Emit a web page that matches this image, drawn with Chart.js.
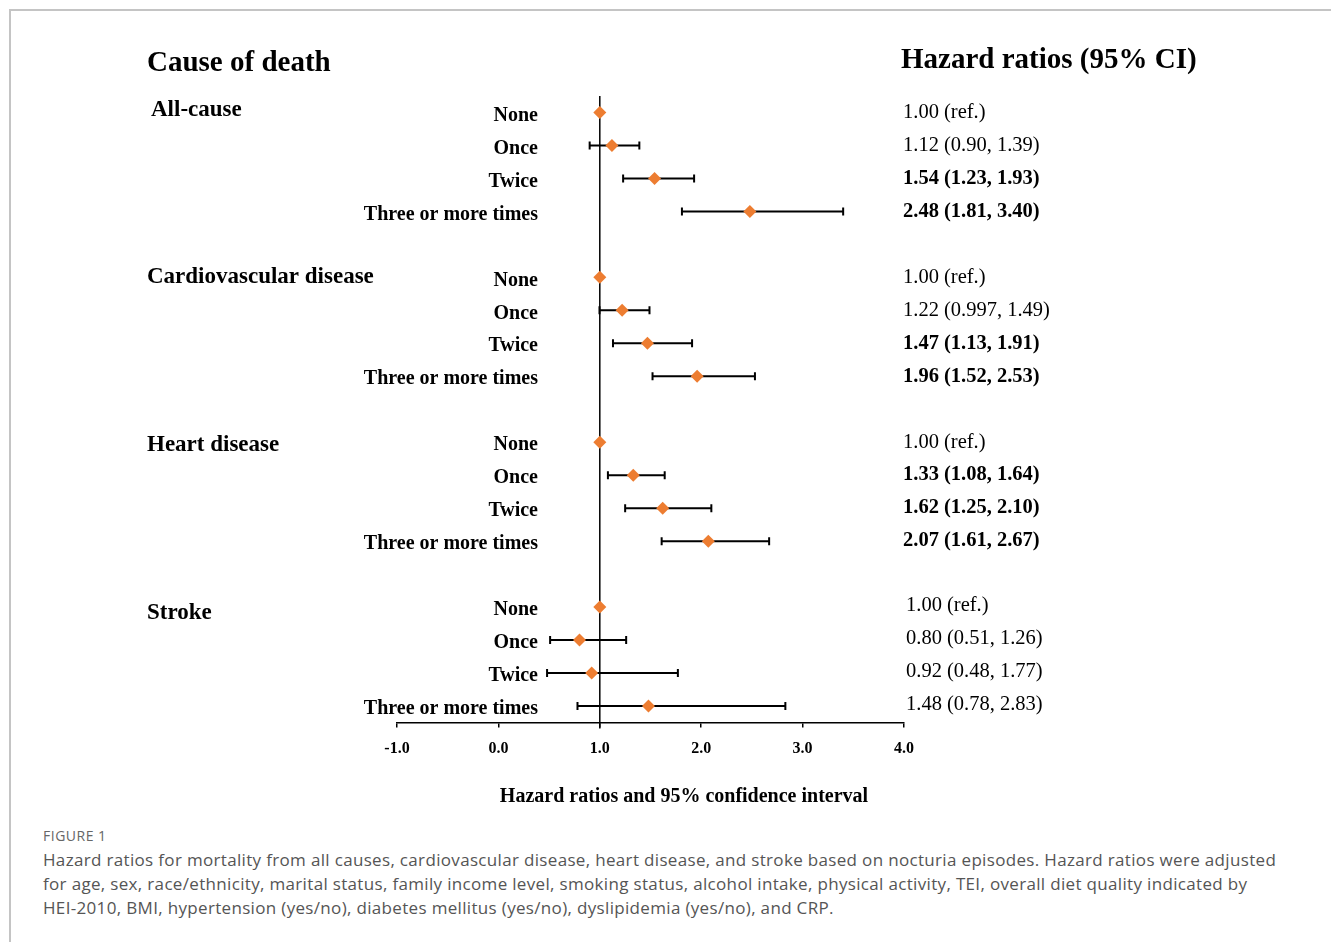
<!DOCTYPE html>
<html>
<head>
<meta charset="utf-8">
<script src="https://cdn.jsdelivr.net/npm/chart.js@4.4.1/dist/chart.umd.min.js"></script>
<style>
    html, body { margin: 0; width: 1331px; height: 942px; overflow: hidden; background: #fff; }
    #frame { position: absolute; left: 9px; top: 9px; right: 0; bottom: 0; border-top: 2px solid #c4c4c4; border-left: 2px solid #c4c4c4; }
    #plot { position: absolute; left: 0; top: 0; width: 1331px; height: 820px; }
    #figlabel { position: absolute; left: 43px; top: 828px; font: 14px "Open Sans", sans-serif; letter-spacing: 0.5px; line-height: 16px; color: #666; }
    #caption { position: absolute; left: 43px; top: 848px; font: 17px "Open Sans", sans-serif; letter-spacing: 0.33px; line-height: 24px; color: #555; white-space: nowrap; }
</style>
</head>
<body>
<div id="frame"></div>
<div id="plot"><canvas id="forest"></canvas></div>
<div id="figlabel">FIGURE 1</div>
<div id="caption">Hazard ratios for mortality from all causes, cardiovascular disease, heart disease, and stroke based on nocturia episodes. Hazard ratios were adjusted<br>for age, sex, race/ethnicity, marital status, family income level, smoking status, alcohol intake, physical activity, TEI, overall diet quality indicated by<br>HEI-2010, BMI, hypertension (yes/no), diabetes mellitus (yes/no), dyslipidemia (yes/no), and CRP.</div>
<script>
const groups = ['All-cause', 'Cardiovascular disease', 'Heart disease', 'Stroke'];
const categories = ['None', 'Once', 'Twice', 'Three or more times'];

// hazard ratio, lower and upper 95% CI per group (None is the reference)
const allCauseHR = [1.00, 1.12, 1.54, 2.48];
const allCauseLo = [null, 0.90, 1.23, 1.81];
const allCauseHi = [null, 1.39, 1.93, 3.40];

const cvdHR = [1.00, 1.22, 1.47, 1.96];
const cvdLo = [null, 0.997, 1.13, 1.52];
const cvdHi = [null, 1.49, 1.91, 2.53];

const heartHR = [1.00, 1.33, 1.62, 2.07];
const heartLo = [null, 1.08, 1.25, 1.61];
const heartHi = [null, 1.64, 2.10, 2.67];

const strokeHR = [1.00, 0.80, 0.92, 1.48];
const strokeLo = [null, 0.51, 0.48, 0.78];
const strokeHi = [null, 1.26, 1.77, 2.83];

const xTicks = [-1, 0, 1, 2, 3, 4];

const hrs = [allCauseHR, cvdHR, heartHR, strokeHR];
const lows = [allCauseLo, cvdLo, heartLo, strokeLo];
const highs = [allCauseHi, cvdHi, heartHi, strokeHi];

const serif = '"Liberation Serif", "Times New Roman", serif';
const rowsPerGroup = categories.length + 1;
// group titles sit a little off their first row in the original
const titleShift = [-2, 0, 3, 6];

function rowOf(g, c) {
    return g * rowsPerGroup + c;
}

function fmt(v) {
    return Math.round(v * 100) / 100 === v ? v.toFixed(2) : String(v);
}

const points = [];
hrs.forEach((list, g) => {
    list.forEach((hr, c) => points.push({ x: hr, y: rowOf(g, c) }));
});

const forestPlugin = {
    id: 'forest',
    beforeDatasetsDraw(chart) {
        const { ctx, chartArea, scales: { x, y } } = chart;
        ctx.save();
        ctx.strokeStyle = '#000';

        // reference line at HR = 1
        const x1 = x.getPixelForValue(1);
        ctx.lineWidth = 1.5;
        ctx.beginPath();
        ctx.moveTo(x1, chartArea.top);
        ctx.lineTo(x1, chartArea.bottom + 6);
        ctx.stroke();

        // confidence intervals
        ctx.lineWidth = 2;
        lows.forEach((list, g) => {
            list.forEach((lo, c) => {
                if (lo == null) return;
                const yy = y.getPixelForValue(rowOf(g, c));
                const xl = x.getPixelForValue(lo);
                const xh = x.getPixelForValue(highs[g][c]);
                ctx.beginPath();
                ctx.moveTo(xl, yy); ctx.lineTo(xh, yy);
                ctx.moveTo(xl, yy - 4); ctx.lineTo(xl, yy + 4);
                ctx.moveTo(xh, yy - 4); ctx.lineTo(xh, yy + 4);
                ctx.stroke();
            });
        });
        ctx.restore();
    },
    afterDraw(chart) {
        const { ctx, chartArea, scales: { x, y } } = chart;
        ctx.save();
        ctx.fillStyle = '#000';
        ctx.textBaseline = 'middle';

        ctx.font = 'bold 29px ' + serif;
        ctx.textAlign = 'left';
        ctx.fillText('Cause of death', 147, 64);
        ctx.fillText('Hazard ratios (95% CI)', 901, 61);

        groups.forEach((name, g) => {
            ctx.font = 'bold 23px ' + serif;
            ctx.textAlign = 'left';
            ctx.fillText(name, g === 0 ? 151 : 147, y.getPixelForValue(rowOf(g, 0)) + titleShift[g]);

            categories.forEach((cat, c) => {
                const yy = y.getPixelForValue(rowOf(g, c));
                ctx.font = 'bold 20px ' + serif;
                ctx.textAlign = 'right';
                ctx.fillText(cat, 538, yy + 3);

                const hr = hrs[g][c];
                const lo = lows[g][c];
                let label = fmt(hr) + ' (ref.)';
                let bold = false;
                if (lo != null) {
                    label = fmt(hr) + ' (' + fmt(lo) + ', ' + fmt(highs[g][c]) + ')';
                    bold = lo > 1;
                }
                ctx.font = (bold ? 'bold ' : '') + '20.5px ' + serif;
                ctx.textAlign = 'left';
                ctx.fillText(label, g === 3 ? 906 : 903, yy - (g === 3 ? 1 : 0));
            });
        });

        ctx.font = 'bold 20px ' + serif;
        ctx.textAlign = 'center';
        ctx.fillText('Hazard ratios and 95% confidence interval', 684, chartArea.bottom + 74);
        ctx.restore();
    }
};

new Chart(document.getElementById('forest'), {
    type: 'scatter',
    data: {
        datasets: [{
            data: points,
            pointStyle: 'rectRot',
            pointRadius: 6.5,
            pointHoverRadius: 6.5,
            backgroundColor: '#ED7D31',
            borderWidth: 0
        }]
    },
    options: {
        responsive: true,
        maintainAspectRatio: false,
        animation: false,
        events: [],
        layout: { padding: { left: 397, right: 427, top: 96, bottom: 53.5 } },
        plugins: {
            legend: { display: false },
            tooltip: { enabled: false }
        },
        scales: {
            x: {
                type: 'linear',
                min: -1,
                max: 4,
                afterBuildTicks: scale => { scale.ticks = xTicks.map(v => ({ value: v })); },
                afterFit: scale => { scale.height = 44; },
                ticks: {
                    color: '#000',
                    padding: 12,
                    maxRotation: 0,
                    font: { family: serif, size: 16, weight: 'bold' },
                    callback: v => v.toFixed(1)
                },
                grid: { drawOnChartArea: false, tickLength: 5, color: '#000', lineWidth: 1.5 },
                border: { color: '#000', width: 1.5 }
            },
            y: {
                type: 'linear',
                display: false,
                reverse: true,
                min: -0.5,
                max: groups.length * rowsPerGroup - 1.5
            }
        }
    },
    plugins: [forestPlugin]
});
</script>
</body>
</html>
